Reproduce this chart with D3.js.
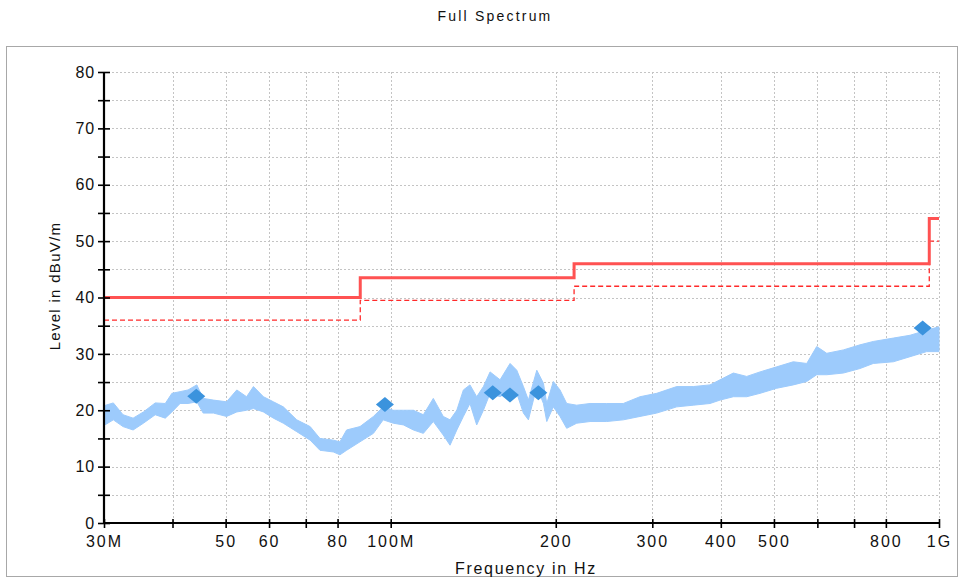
<!DOCTYPE html>
<html>
<head>
<meta charset="utf-8">
<script src="https://cdn.jsdelivr.net/npm/d3@7"></script>
<style>
  body { margin: 0; background: #fff; }
  text { font-family: "Liberation Sans", Arial, sans-serif; fill: #111; }
</style>
</head>
<body>
<div id="chart"></div>
<script>
// spectrum envelope (MHz, dBuV/m)
const traceFreq = [30, 31.2, 32.5, 33.9, 35.4, 37.2, 38.8, 39.9, 41.3, 42.7, 44.3, 45.5, 47.5, 50.2,
  52.4, 54.6, 56.2, 58.6, 61.1, 63.7, 67.4, 71.3, 74.3, 78.6, 80.8, 83.1, 87.9, 93.0, 96.9,
  101.1, 105.5, 110.0, 114.7, 119.6, 124.7, 128.3, 132.0, 135.7, 139.5, 143.5, 147.6, 151.8,
  158.3, 165.1, 169.8, 174.6, 178.3, 184.7, 189.9, 192.6, 198.0, 203.6, 209.4, 218.4, 231.0,
  247.7, 265.6, 284.9, 305.6, 332.4, 356.4, 382.3, 398.7, 421.6, 446.0, 471.6, 505.9, 542.3,
  573.8, 598.4, 624.1, 669.2, 717.6, 758.8, 825.5, 885.4, 949.6, 1000]
const traceLo = [17.3, 18.3, 17.1, 16.5, 17.7, 19.2, 18.6, 19.7, 21.2, 21.2, 21.5, 19.5, 19.5, 18.9,
  19.7, 20.0, 20.3, 19.7, 18.6, 17.7, 16.2, 14.7, 12.9, 12.6, 12.1, 12.9, 14.4, 15.9, 18.3,
  17.7, 17.4, 16.5, 15.9, 18.0, 15.6, 13.8, 16.5, 18.9, 21.2, 17.4, 20.0, 23.0,
  22.4, 23.6, 23.0, 19.5, 18.3, 24.2, 21.2, 18.0, 20.6, 18.9, 16.8, 17.7, 18.0,
  18.0, 18.3, 18.9, 19.5, 20.6, 20.9, 21.2, 21.8, 22.4, 22.4, 23.0, 23.9, 24.5,
  25.1, 26.3, 26.3, 26.6, 27.4, 28.3, 28.6, 29.5, 30.4, 30.4]
const traceHi = [20.8, 21.3, 19.2, 18.6, 19.7, 21.3, 21.2, 23.0, 23.3, 23.6, 24.5, 22.1, 21.8, 21.5,
  23.6, 22.4, 24.2, 22.4, 21.5, 20.6, 18.3, 17.1, 15.0, 14.7, 14.4, 16.5, 17.1, 18.9, 20.6,
  20.0, 20.0, 20.0, 19.2, 22.1, 18.9, 18.3, 20.0, 23.6, 24.5, 22.4, 24.2, 26.8,
  25.4, 28.3, 27.1, 24.2, 21.8, 27.1, 24.8, 21.2, 25.1, 23.6, 21.2, 20.9, 21.2,
  21.2, 21.2, 22.4, 23.0, 24.2, 24.2, 24.5, 25.4, 26.6, 26.0, 26.8, 27.7, 28.6,
  28.3, 31.3, 30.1, 30.7, 31.6, 32.2, 32.8, 33.3, 34.2, 34.8]

// limit lines
const limitFreq = [30, 88, 216, 960, 1000]
const limitLevel = [40, 43.5, 46, 54, 54]
const marginLevel = [36, 39.5, 42, 50, 50]

// final measurement points
const peakFreq = [44.2, 97.6, 153.5, 165, 185.9, 933.6]
const peakLevel = [22.5, 21.0, 23.1, 22.7, 23.1, 34.6]

// axis ticks
const xTicks = [30, 40, 50, 60, 70, 80, 100, 200, 300, 400, 500, 600, 700, 800, 1000]
const xLabels = { 30: '30M', 50: '50', 60: '60', 80: '80', 100: '100M', 200: '200', 300: '300',
  400: '400', 500: '500', 800: '800', 1000: '1G' }
const yMajor = [0, 10, 20, 30, 40, 50, 60, 70, 80]
const yMinor = [5, 15, 25, 35, 45, 55, 65, 75]

const w = 962
const h = 579
const plot = { left: 104, right: 939, top: 72, bottom: 523 }

const svg = d3.select('#chart').append('svg')
  .attr('width', w)
  .attr('height', h)

const x = d3.scaleLog().domain([30, 1000]).range([plot.left, plot.right])
const y = d3.scaleLinear().domain([0, 80]).range([plot.bottom, plot.top])

// frame
svg.append('rect')
  .attr('x', 6.5).attr('y', 46.5)
  .attr('width', 951).attr('height', 530)
  .attr('fill', 'none')
  .attr('stroke', '#a8a8a8')

svg.append('text')
  .attr('x', 495).attr('y', 21)
  .attr('text-anchor', 'middle')
  .attr('font-size', 14)
  .attr('letter-spacing', 2.2)
  .text('Full Spectrum')

// grid
const grid = svg.append('g')
  .attr('stroke', '#c4c4c4')
  .attr('stroke-dasharray', '2,2')

grid.selectAll('.gy')
  .data(yMajor.concat(yMinor).filter(d => d > 0))
  .enter().append('line')
  .attr('x1', plot.left).attr('x2', plot.right)
  .attr('y1', d => Math.round(y(d)) + 0.5)
  .attr('y2', d => Math.round(y(d)) + 0.5)

grid.selectAll('.gx')
  .data(xTicks.filter(d => d > 30))
  .enter().append('line')
  .attr('x1', d => Math.round(x(d)) + 0.5)
  .attr('x2', d => Math.round(x(d)) + 0.5)
  .attr('y1', plot.top).attr('y2', plot.bottom)

// spectrum band
const traceData = traceFreq.map((f, i) => ({ f: f, lo: traceLo[i], hi: traceHi[i] }))
svg.append('path')
  .datum(traceData)
  .attr('fill', '#9dcbfc')
  .attr('stroke', '#9dcbfc')
  .attr('stroke-width', 1)
  .attr('d', d3.area()
    .x(d => x(d.f))
    .y0(d => y(d.lo))
    .y1(d => y(d.hi)))

// limits
const stepLine = d3.line()
  .x(d => x(d[0]))
  .y(d => y(d[1]))
  .curve(d3.curveStepAfter)

svg.append('path')
  .datum(limitFreq.map((f, i) => [f, marginLevel[i]]))
  .attr('fill', 'none')
  .attr('stroke', '#ff2a2a')
  .attr('stroke-width', 1.3)
  .attr('stroke-dasharray', '5,3')
  .attr('d', stepLine)

svg.append('path')
  .datum(limitFreq.map((f, i) => [f, limitLevel[i]]))
  .attr('fill', 'none')
  .attr('stroke', '#ff5252')
  .attr('stroke-width', 3)
  .attr('d', stepLine)

// peaks
svg.selectAll('.peak')
  .data(peakFreq)
  .enter().append('path')
  .attr('fill', '#3b93dd')
  .attr('transform', (d, i) => 'translate(' + x(d) + ',' + y(peakLevel[i]) + ')')
  .attr('d', 'M0,-7.5L9,0L0,7.5L-9,0Z')

// axes
const yAxis = d3.axisLeft(y)
  .tickValues(yMajor.concat(yMinor))
  .tickSize(6)
  .tickFormat(d => yMajor.includes(d) ? d : '')

const yg = svg.append('g')
  .attr('transform', 'translate(' + plot.left + ',0)')
  .call(yAxis)
yg.select('.domain').attr('stroke', '#000').attr('stroke-width', 2.2).attr('d', 'M0,' + plot.top + 'V' + (plot.bottom + 1))
yg.selectAll('.tick line').attr('x1', 6).attr('stroke', '#000').attr('stroke-width', 1.6)
yg.selectAll('.tick text')
  .attr('x', -9)
  .attr('font-size', 16)
  .attr('letter-spacing', 0.8)
  .attr('font-family', '"Liberation Sans", Arial, sans-serif')
  .attr('fill', '#111')

const xAxis = d3.axisBottom(x)
  .tickValues(xTicks)
  .tickSize(5)
  .tickFormat(d => xLabels[d] || '')

const xg = svg.append('g')
  .attr('transform', 'translate(0,' + plot.bottom + ')')
  .call(xAxis)
xg.select('.domain').attr('stroke', '#000').attr('stroke-width', 2.2).attr('d', 'M' + (plot.left - 1) + ',0H' + plot.right)
xg.selectAll('.tick line').attr('y1', -4).attr('stroke', '#000').attr('stroke-width', 1.6)
xg.selectAll('.tick text')
  .attr('y', 13)
  .attr('font-size', 16)
  .attr('letter-spacing', 2)
  .attr('font-family', '"Liberation Sans", Arial, sans-serif')
  .attr('fill', '#111')

// axis titles
svg.append('text')
  .attr('transform', 'translate(60,286) rotate(-90)')
  .attr('text-anchor', 'middle')
  .attr('font-size', 15)
  .attr('letter-spacing', 1.3)
  .text('Level in dBuV/m')

svg.append('text')
  .attr('x', 526).attr('y', 574)
  .attr('text-anchor', 'middle')
  .attr('font-size', 16)
  .attr('letter-spacing', 1.7)
  .text('Frequency in Hz')
</script>
</body>
</html>
